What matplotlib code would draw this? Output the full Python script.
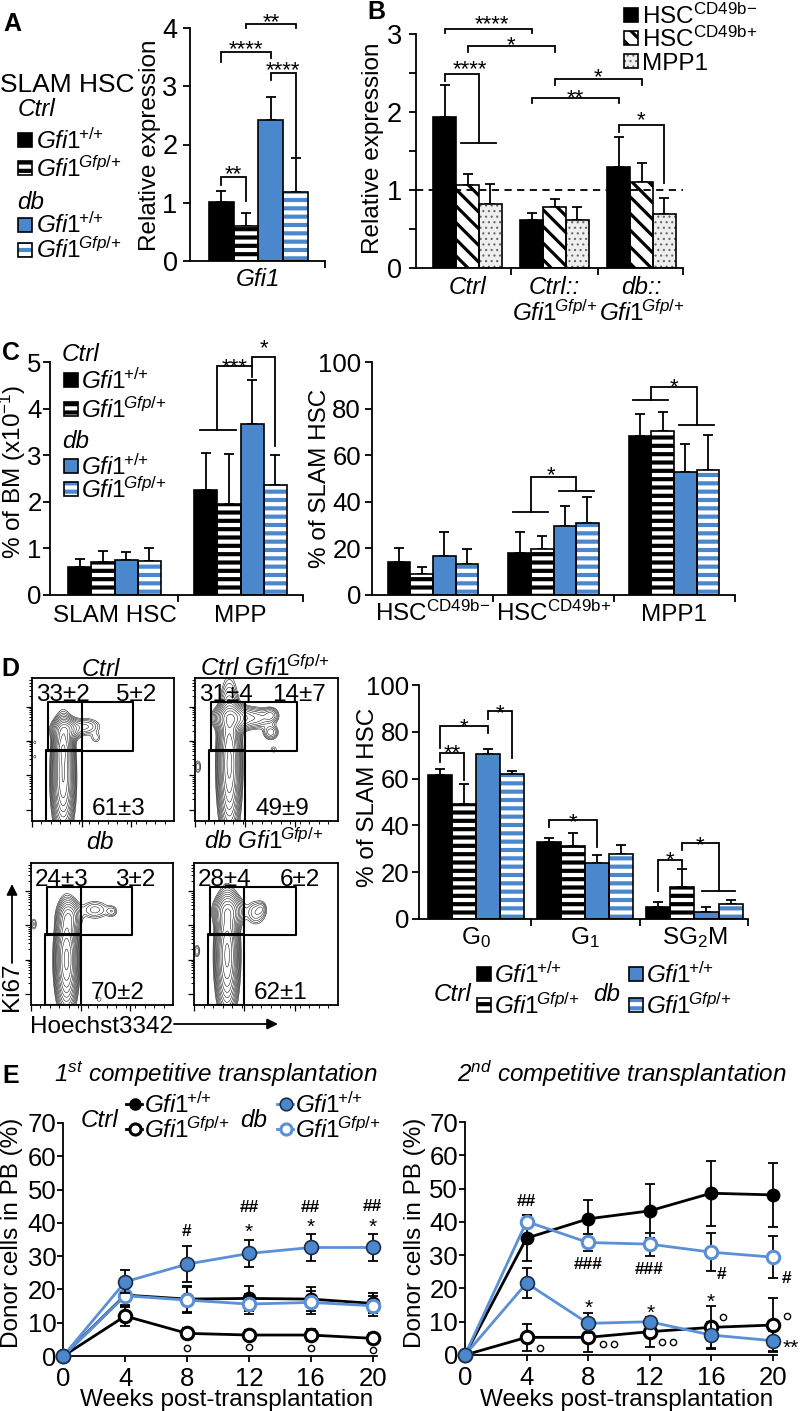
import numpy as np
import matplotlib
matplotlib.use("Agg")
import matplotlib as mpl
import matplotlib.pyplot as plt
from matplotlib.patches import Rectangle

# ------------------------------------------------------------------ data
A_CATEGORY = "Gfi1"
A_VALUES = [1.02, 0.60, 2.42, 1.18]
A_SD = [0.18, 0.23, 0.40, 0.59]

GENO_WT = r"$\mathit{Gfi1}^{\!{+}/{+}}$"
GENO_GFP = r"$\mathit{Gfi1}^{\!\mathit{Gfp}/{+}}$"

B_GROUPS = ["Ctrl", "Ctrl::", "db::"]
B_GROUPS_LINE2 = ["", GENO_GFP, GENO_GFP]
B_HSC_NEG = [1.93, 0.61, 1.29]
B_HSC_NEG_SD = [0.42, 0.10, 0.39]
B_HSC_POS = [1.06, 0.78, 1.10]
B_HSC_POS_SD = [0.15, 0.10, 0.25]
B_MPP1 = [0.82, 0.62, 0.69]
B_MPP1_SD = [0.26, 0.16, 0.21]
B_LEGEND = [r"HSC$^{\mathrm{CD49b{-}}}$", r"HSC$^{\mathrm{CD49b{+}}}$", "MPP1"]

C_BM_CATS = ["SLAM HSC", "MPP"]
C_BM_CTRL_WT = [0.61, 2.25]
C_BM_CTRL_WT_SD = [0.16, 0.81]
C_BM_CTRL_GFP = [0.70, 1.95]
C_BM_CTRL_GFP_SD = [0.25, 1.09]
C_BM_DB_WT = [0.75, 3.68]
C_BM_DB_WT_SD = [0.18, 0.93]
C_BM_DB_GFP = [0.74, 2.37]
C_BM_DB_GFP_SD = [0.28, 0.64]

C_HSC_CATS = [r"HSC$^{\mathrm{CD49b{-}}}$", r"HSC$^{\mathrm{CD49b{+}}}$", "MPP1"]
C_HSC_CTRL_WT = [14.0, 18.2, 68.3]
C_HSC_CTRL_WT_SD = [6.1, 9.0, 9.4]
C_HSC_CTRL_GFP = [9.0, 19.6, 70.6]
C_HSC_CTRL_GFP_SD = [3.2, 5.9, 7.9]
C_HSC_DB_WT = [16.9, 29.7, 53.0]
C_HSC_DB_WT_SD = [10.3, 8.7, 11.9]
C_HSC_DB_GFP = [13.2, 30.8, 53.7]
C_HSC_DB_GFP_SD = [6.6, 11.2, 15.1]

D_CATS = [r"G$_0$", r"G$_1$", r"SG$_2$M"]
D_CTRL_WT = [61.5, 32.8, 5.0]
D_CTRL_WT_SD = [2.6, 2.0, 2.1]
D_CTRL_GFP = [49.3, 31.3, 13.8]
D_CTRL_GFP_SD = [8.4, 5.6, 7.4]
D_DB_WT = [70.4, 24.1, 2.8]
D_DB_WT_SD = [2.1, 3.3, 2.2]
D_DB_GFP = [62.0, 27.8, 6.6]
D_DB_GFP_SD = [1.2, 3.7, 1.5]

D_FLOW_TITLES = [r"$\mathit{Ctrl}$", r"$\mathit{Ctrl\ Gfi1}^{\!\mathit{Gfp}/{+}}$",
                 r"$\mathit{db}$", r"$\mathit{db\ Gfi1}^{\!\mathit{Gfp}/{+}}$"]
D_FLOW_G1 = ["33±2", "31±4", "24±3", "28±4"]
D_FLOW_SG2M = ["5±2", "14±7", "3±2", "6±2"]
D_FLOW_G0 = ["61±3", "49±9", "70±2", "62±1"]
# density components of each flow plot: (x, y, sx, sy, weight)
D_FLOW_BLOBS = [
    [(0.22, 0.30, 0.035, 0.17, 1.0), (0.22, 0.52, 0.030, 0.08, 0.6), (0.24, 0.64, 0.05, 0.04, 0.30),
     (0.38, 0.66, 0.06, 0.035, 0.08), (0.45, 0.58, 0.025, 0.025, 0.035),
     (0.02, 0.55, 0.015, 0.02, 0.025), (0.02, 0.45, 0.015, 0.02, 0.025), (0.03, 0.28, 0.015, 0.02, 0.02)],
    [(0.24, 0.40, 0.035, 0.22, 1.0), (0.26, 0.72, 0.06, 0.045, 0.45), (0.42, 0.72, 0.07, 0.04, 0.12),
     (0.53, 0.74, 0.03, 0.03, 0.09), (0.53, 0.62, 0.03, 0.03, 0.09), (0.55, 0.50, 0.02, 0.02, 0.03),
     (0.02, 0.38, 0.015, 0.03, 0.05)],
    [(0.25, 0.32, 0.035, 0.16, 1.0), (0.27, 0.62, 0.04, 0.06, 0.25), (0.45, 0.67, 0.06, 0.04, 0.06),
     (0.57, 0.66, 0.025, 0.025, 0.045), (0.02, 0.57, 0.015, 0.03, 0.04), (0.48, 0.04, 0.02, 0.02, 0.025)],
    [(0.23, 0.35, 0.035, 0.18, 1.0), (0.24, 0.66, 0.05, 0.06, 0.30), (0.43, 0.65, 0.04, 0.05, 0.07),
     (0.47, 0.68, 0.02, 0.03, 0.04), (0.02, 0.38, 0.015, 0.03, 0.05)],
]

E_WEEKS = [0, 4, 8, 12, 16, 20]
E1_CTRL_WT = [0, 18.3, 17.1, 17.3, 17.1, 15.8]
E1_CTRL_WT_SD = [0, 3.0, 4.0, 3.8, 3.7, 3.0]
E1_CTRL_GFP = [0, 12.0, 6.8, 6.3, 6.3, 5.3]
E1_CTRL_GFP_SD = [0, 3.0, 1.5, 1.5, 1.7, 1.5]
E1_DB_WT = [0, 22.3, 27.6, 30.8, 32.6, 32.6]
E1_DB_WT_SD = [0, 3.5, 5.5, 4.2, 4.2, 4.2]
E1_DB_GFP = [0, 18.1, 16.8, 15.6, 16.1, 15.1]
E1_DB_GFP_SD = [0, 3.5, 4.0, 3.0, 3.5, 3.0]
E1_HASH = [("#", 8, 38.0), ("##", 12, 45.0), ("##", 16, 45.0), ("##", 20, 45.5)]
E1_STARS = [("*", 12, 39.0), ("*", 16, 40.5), ("*", 20, 40.5)]
E1_CIRC_X = [8, 12, 16, 20]
E1_CIRC_Y = [2.5, 2.8, 2.3, 1.8]

E2_CTRL_WT = [0, 35.1, 40.9, 43.3, 48.6, 48.1]
E2_CTRL_WT_SD = [0, 7.0, 5.8, 8.0, 9.7, 9.5]
E2_CTRL_GFP = [0, 5.3, 5.3, 7.0, 8.3, 9.0]
E2_CTRL_GFP_SD = [0, 4.0, 4.3, 4.5, 6.5, 8.0]
E2_DB_WT = [0, 21.6, 9.5, 10.0, 6.0, 4.3]
E2_DB_WT_SD = [0, 4.4, 3.0, 1.0, 4.0, 3.0]
E2_DB_GFP = [0, 40.1, 33.8, 33.3, 30.9, 29.4]
E2_DB_GFP_SD = [0, 2.0, 2.5, 3.5, 5.8, 6.3]
E2_HASH = [("##", 4, 46.6), ("###", 8, 27.6), ("###", 12, 26.3), ("#", 16.65, 24.6), ("#", 20.9, 23.6)]
E2_STARS = [("*", 8.05, 16.0), ("*", 12.1, 14.5), ("*", 16.0, 17.8), ("**", 21.2, 4.0)]
E2_CIRC_X = [4.9, 9.0, 9.7, 12.8, 13.5, 16.8, 20.9]
E2_CIRC_Y = [2.2, 3.2, 3.2, 4.0, 4.0, 11.3, 11.7]

# ------------------------------------------------------------------ style
W, H, DPI = 800, 1411, 100
PX = DPI / 72.0
FS = 17.5
BLUE = "#4b87cc"
BLUE_L = "#5b90d6"
LW = 1.3

plt.rcParams.update({
    "font.family": ["Liberation Sans", "DejaVu Sans"],
    "mathtext.fontset": "custom",
    "mathtext.rm": "Liberation Sans",
    "mathtext.it": "Liberation Sans:italic",
    "mathtext.bf": "Liberation Sans:bold",
    "mathtext.sf": "Liberation Sans",
    "hatch.linewidth": 2.6,
    "axes.linewidth": LW,
})

STYLES = {
    "wt": dict(face="black", hatch=None),
    "gfp": dict(face="white", hatch="--", hc="black", hlw=3.0),
    "dbwt": dict(face=BLUE, hatch=None),
    "dbgfp": dict(face=BLUE, hatch="--", hc="white", hlw=3.0),
    "diag": dict(face="white", hatch="\\\\", hc="black", hlw=2.3),
    "dots": dict(face="#eeeeee", hatch="...", hc="#666666", hlw=0.8),
}

fig = plt.figure(figsize=(W / DPI, H / DPI), dpi=DPI)
ov = fig.add_axes([0, 0, 1, 1], zorder=10)
ov.set_xlim(0, W)
ov.set_ylim(H, 0)
ov.axis("off")


def add_ax(l, t, r, b):
    return fig.add_axes([l / W, 1 - b / H, (r - l) / W, (b - t) / H])


def T(x, y, s, fs=FS, ha="center", **kw):
    ov.text(x, y + 0.36 * fs * PX, s, fontsize=fs, ha=ha, va="baseline", **kw)


def TR(x, y, s, fs=FS):
    ov.text(x, y, s, fontsize=fs, rotation=90, ha="center", va="center")


def hatched(maker, st):
    with mpl.rc_context({"hatch.linewidth": st.get("hlw", 1.0)}):
        arts = maker()
    for p in arts:
        if hasattr(p, "set_hatch_linewidth"):
            p.set_hatch_linewidth(st.get("hlw", 1.0))
    return arts


def styled_bar(ax, xs, vals, w, name):
    st = STYLES[name]
    if st["hatch"]:
        hatched(lambda: list(ax.bar(xs, vals, w, color=st["face"], edgecolor=st["hc"],
                                    hatch=st["hatch"], linewidth=0, zorder=2)), st)
    else:
        ax.bar(xs, vals, w, color=st["face"], linewidth=0, zorder=2)
    ax.bar(xs, vals, w, fill=False, edgecolor="black", linewidth=1.2, zorder=2.1)


def legend_square(x, y, name, s=14):
    st = STYLES[name]
    if st["hatch"]:
        def mk():
            r = Rectangle((x - s / 2, y - s / 2), s, s, facecolor=st["face"], edgecolor=st["hc"],
                          hatch=st["hatch"], linewidth=0)
            ov.add_patch(r)
            return [r]
        hatched(mk, st)
    else:
        ov.add_patch(Rectangle((x - s / 2, y - s / 2), s, s, facecolor=st["face"], linewidth=0))
    ov.add_patch(Rectangle((x - s / 2, y - s / 2), s, s, fill=False, edgecolor="black", linewidth=1.2))


def bar_x(g, i, n, w):
    return g + (i - (n - 1) / 2.0) * w


def group_bars(ax, series, sds, names, w):
    n = len(series)
    for i, (vals, sd, nm) in enumerate(zip(series, sds, names)):
        xs = [bar_x(g, i, n, w) for g in range(len(vals))]
        styled_bar(ax, xs, vals, w, nm)
        ax.errorbar(xs, vals, yerr=[np.zeros(len(vals)), sd], fmt="none", ecolor="black",
                    elinewidth=LW, capsize=3.5, capthick=LW, zorder=1)


def bar_axes(ax, ylim, yticks, ylabels, xticks, ysize=19, ypad=3, minor=None):
    ax.set_ylim(*ylim)
    for s in ("top", "right"):
        ax.spines[s].set_visible(False)
    ax.set_yticks(yticks)
    ax.set_yticklabels(ylabels)
    if minor is not None:
        ax.set_yticks(minor, minor=True)
    ax.tick_params(axis="y", which="both", direction="out", length=5, width=LW, labelsize=ysize, pad=ypad)
    ax.set_xticks(xticks)
    ax.set_xticklabels([])
    ax.tick_params(axis="x", direction="out", length=5, width=LW)


def br(ax, xs, ys):
    ax.plot(xs, ys, color="black", lw=LW, clip_on=False, solid_joinstyle="miter", zorder=3)


def sig(ax, x, y, s, fs=16, frac=0.575, **kw):
    ax.annotate(s, (x, y), xytext=(0, -frac * fs * PX), textcoords="offset pixels", ha="center",
                va="baseline", fontsize=fs, annotation_clip=False, **kw)


def cat_label(ax, g, s, dy, fs=FS, **kw):
    ax.annotate(s, (g, 0), xycoords=("data", "axes fraction"), xytext=(0, -dy - 0.36 * fs * PX),
                textcoords="offset pixels", ha="center", va="baseline", fontsize=fs,
                annotation_clip=False, **kw)


# ------------------------------------------------------------------ panel A
axA = add_ax(190, 28, 325, 261)
wA = 0.25
xsA = [bar_x(0, i, 4, wA) for i in range(4)]
for i, nm in enumerate(["wt", "gfp", "dbwt", "dbgfp"]):
    styled_bar(axA, [xsA[i]], [A_VALUES[i]], wA, nm)
axA.errorbar(xsA, A_VALUES, yerr=[np.zeros(4), A_SD], fmt="none", ecolor="black", elinewidth=LW,
             capsize=3.5, capthick=LW, zorder=1)
axA.set_xlim(-0.692, 0.672)
bar_axes(axA, (0, 4), [0, 1, 2, 3, 4], ["0", "1", "2", "3", "4"], [0.672], ysize=19.5, ypad=4)
cat_label(axA, 0, A_CATEGORY, 16, style="italic")
br(axA, [xsA[0], xsA[0], xsA[1], xsA[1]], [1.30, 1.44, 1.44, 1.03])
sig(axA, (xsA[0] + xsA[1]) / 2, 1.61, "**")
br(axA, [xsA[0], xsA[0], xsA[2], xsA[2]], [3.42, 3.59, 3.59, 3.48])
sig(axA, (xsA[0] + xsA[2]) / 2, 3.76, "****")
br(axA, [xsA[2], xsA[2], xsA[3], xsA[3]], [3.11, 3.23, 3.23, 1.79])
sig(axA, (xsA[2] + xsA[3]) / 2, 3.40, "****")
br(axA, [xsA[1], xsA[1], xsA[3], xsA[3]], [4.00, 4.07, 4.07, 4.00])
sig(axA, (xsA[1] + xsA[3]) / 2, 4.22, "**")
TR(150, 145, "Relative expression")
T(3, 22, "A", fs=18, ha="left", fontweight="bold")
T(0, 82, "SLAM HSC", fs=19, ha="left")
T(18, 107, "Ctrl", ha="left", style="italic")
T(17, 200, "db", ha="left", style="italic")
for (yy, nm, lab) in [(140, "wt", GENO_WT), (168, "gfp", GENO_GFP), (224.5, "dbwt", GENO_WT),
                      (249.5, "dbgfp", GENO_GFP)]:
    legend_square(25, yy, nm)
    T(36, yy, lab, ha="left")

# ------------------------------------------------------------------ panel B
axB = add_ax(416, 34, 683, 268)
wB = 0.264
group_bars(axB, [B_HSC_NEG, B_HSC_POS, B_MPP1], [B_HSC_NEG_SD, B_HSC_POS_SD, B_MPP1_SD],
           ["wt", "diag", "dots"], wB)
axB.set_xlim(-0.592, 2.477)
bar_axes(axB, (0, 3), [0, 1, 2, 3], ["0", "1", "2", "3"], [0.5, 1.5, 2.477], ysize=19.5, ypad=5,
         minor=[0.5, 1.5, 2.5])
axB.axhline(1, color="black", lw=LW, ls=(0, (4, 3)), zorder=3)
for g, (l1, l2) in enumerate(zip(B_GROUPS, B_GROUPS_LINE2)):
    cat_label(axB, g, l1, 17, style="italic")
    if l2:
        cat_label(axB, g, l2, 44)
bB = lambda g, i: bar_x(g, i, 3, wB)
br(axB, [bB(0, 0), bB(0, 0), bB(1, 0), bB(1, 0)], [3.01, 3.06, 3.06, 3.01])
sig(axB, (bB(0, 0) + bB(1, 0)) / 2 + 0.05, 3.21, "****")
br(axB, [bB(0, 1), bB(0, 1), bB(1, 1), bB(1, 1)], [2.77, 2.84, 2.84, 2.77])
sig(axB, (bB(0, 1) + bB(1, 1)) / 2, 2.94, "*")
xr = (bB(0, 1) + bB(0, 2)) / 2
br(axB, [bB(0, 0), bB(0, 0), xr, xr], [2.40, 2.49, 2.49, 1.60])
br(axB, [xr - 0.21, xr + 0.20], [1.60, 1.60])
sig(axB, 0.03, 2.64, "****")
br(axB, [bB(1, 1), bB(1, 1), bB(2, 1), bB(2, 1)], [2.35, 2.42, 2.42, 2.35])
sig(axB, (bB(1, 1) + bB(2, 1)) / 2, 2.53, "*")
br(axB, [bB(1, 0), bB(1, 0), bB(2, 0), bB(2, 0)], [2.12, 2.18, 2.18, 2.12])
sig(axB, (bB(1, 0) + bB(2, 0)) / 2, 2.27, "**")
br(axB, [bB(2, 0), bB(2, 0), bB(2, 2), bB(2, 2)], [1.75, 1.83, 1.83, 1.09])
sig(axB, (bB(2, 0) + bB(2, 2)) / 2, 1.98, "*")
TR(373, 148, "Relative expression")
T(367, 10, "B", fs=18, ha="left", fontweight="bold")
for yy, nm, lab in zip([15, 38, 61], ["wt", "diag", "dots"], B_LEGEND):
    legend_square(630.5, yy, nm)
    T(642, yy, lab, ha="left")

# ------------------------------------------------------------------ panel C left
axC1 = add_ax(50, 362.3, 303, 595)
wC = 0.184
group_bars(axC1, [C_BM_CTRL_WT, C_BM_CTRL_GFP, C_BM_DB_WT, C_BM_DB_GFP],
           [C_BM_CTRL_WT_SD, C_BM_CTRL_GFP_SD, C_BM_DB_WT_SD, C_BM_DB_GFP_SD],
           ["wt", "gfp", "dbwt", "dbgfp"], wC)
axC1.set_xlim(-0.512, 1.496)
bar_axes(axC1, (0, 5), [0, 1, 2, 3, 4, 5], ["0", "1", "2", "3", "4", "5"], [0.5, 1.496], ysize=18.5, ypad=1)
for g, lab in enumerate(C_BM_CATS):
    cat_label(axC1, g, lab, 18)
bC = lambda g, i: bar_x(g, i, 4, wC)
xl = (bC(1, 0) + bC(1, 1)) / 2
br(axC1, [xl, xl, bC(1, 2), bC(1, 2)], [3.54, 4.91, 4.91, 4.68])
br(axC1, [xl - 0.14, xl + 0.15], [3.54, 3.54])
sig(axC1, (xl + bC(1, 2)) / 2, 5.05, "***")
br(axC1, [bC(1, 2), bC(1, 2), bC(1, 3), bC(1, 3)], [4.91, 5.12, 5.12, 3.21])
sig(axC1, (bC(1, 2) + bC(1, 3)) / 2, 5.44, "*")
TR(13, 472, r"% of BM (x10$^{-1}$)")
T(2, 351, "C", fs=18, ha="left", fontweight="bold")
T(62, 352, "Ctrl", ha="left", style="italic")
T(62, 439, "db", ha="left", style="italic")
for (yy, nm, lab) in [(380, "wt", GENO_WT), (409, "gfp", GENO_GFP), (466, "dbwt", GENO_WT),
                      (489, "dbgfp", GENO_GFP)]:
    legend_square(70.5, yy, nm)
    T(81, yy, lab, ha="left")

# ------------------------------------------------------------------ panel C right
axC2 = add_ax(372, 362, 735, 595)
wR = 0.187
group_bars(axC2, [C_HSC_CTRL_WT, C_HSC_CTRL_GFP, C_HSC_DB_WT, C_HSC_DB_GFP],
           [C_HSC_CTRL_WT_SD, C_HSC_CTRL_GFP_SD, C_HSC_DB_WT_SD, C_HSC_DB_GFP_SD],
           ["wt", "gfp", "dbwt", "dbgfp"], wR)
axC2.set_xlim(-0.506, 2.506)
bar_axes(axC2, (0, 100), [0, 20, 40, 60, 80, 100], ["0", "20", "40", "60", "80", "100"],
         [0.5, 1.5, 2.506], ysize=18.5, ypad=3)
for g, lab in enumerate(C_HSC_CATS):
    cat_label(axC2, g, lab, 17)
bR = lambda g, i: bar_x(g, i, 4, wR)
for g, ylow, ytop, yr, tx, ty in [(1, 35.8, 50.6, 44.8, 0.98, 54.5), (2, 83.8, 89.1, 73.1, 2.0, 92.3)]:
    cl = (bR(g, 0) + bR(g, 1)) / 2
    cr = (bR(g, 2) + bR(g, 3)) / 2
    br(axC2, [cl - 0.15, cl + 0.14], [ylow, ylow])
    br(axC2, [cl, cl, cr, cr], [ylow, ytop, ytop, yr])
    br(axC2, [cr - 0.145, cr + 0.145], [yr, yr])
    sig(axC2, tx, ty, "*")
TR(320, 478, "% of SLAM HSC")

# ------------------------------------------------------------------ panel D flow plots
boxes = [(32, 678, 174, 821), (195, 678, 338, 821), (31, 863, 173, 1005), (194, 863, 338, 1005)]
gx = np.linspace(0, 1, 260)
GX, GY = np.meshgrid(gx, gx)
yt_major = [0.08, 0.32, 0.56, 0.80]
yt_minor = [m + np.log10(k) * 0.24 for m in yt_major for k in range(2, 10) if m + np.log10(k) * 0.24 < 1]
for k, (l, t, r, b) in enumerate(boxes):
    ax = add_ax(l, t, r, b)
    Z = np.zeros_like(GX)
    for (cx, cy, sx, sy, wgt) in D_FLOW_BLOBS[k]:
        Z += wgt * np.exp(-0.5 * (((GX - cx) / sx) ** 2 + ((GY - cy) / sy) ** 2))
    levels = Z.max() * np.geomspace(0.02, 0.9, 13)
    ax.contour(GX, GY, Z, levels=levels, colors="black", linewidths=0.35)
    ax.set_xlim(0, 1)
    ax.set_ylim(0, 1)
    ax.plot([0.11, 0.71, 0.71, 0.11, 0.11], [0.49, 0.49, 0.83, 0.83, 0.49], color="black", lw=1.5)
    ax.plot([0.35, 0.35], [0.49, 0.83], color="black", lw=1.5)
    ax.plot([0.10, 0.35, 0.35, 0.10, 0.10], [0.0, 0.0, 0.50, 0.50, 0.0], color="black", lw=1.5)
    ax.set_yticks(yt_major)
    ax.set_yticks(yt_minor, minor=True)
    ax.set_xticks([0.0, 0.35, 0.70])
    ax.set_xticks(np.arange(0, 1.0, 1 / 15.0), minor=True)
    ax.tick_params(which="major", direction="out", length=4, width=0.9, labelleft=False, labelbottom=False)
    ax.tick_params(which="minor", direction="out", length=2.5, width=0.7)
    for s in ax.spines.values():
        s.set_linewidth(LW)
    cxm = (l + r) / 2
    T(cxm - 2, t - 11 if k < 2 else t - 23, D_FLOW_TITLES[k])
    T(l + 31, t + 14, D_FLOW_G1[k])
    T(l + 104 if k != 3 else l + 106, t + 14, D_FLOW_SG2M[k])
    T(l + 87, b - 15, D_FLOW_G0[k])
T(1, 667, "D", fs=18, ha="left", fontweight="bold")
TR(12, 987, "Ki67")
ov.annotate("", xy=(12, 884), xytext=(12, 963),
            arrowprops=dict(arrowstyle="-|>", color="black", lw=LW, mutation_scale=16, shrinkA=0, shrinkB=0))
T(30, 1024, "Hoechst3342", ha="left")
ov.annotate("", xy=(278, 1024), xytext=(174, 1024),
            arrowprops=dict(arrowstyle="-|>", color="black", lw=LW, mutation_scale=16, shrinkA=0, shrinkB=0))

# ------------------------------------------------------------------ panel D right bars
axD = add_ax(419, 685, 748, 919)
wD = 0.22
group_bars(axD, [D_CTRL_WT, D_CTRL_GFP, D_DB_WT, D_DB_GFP],
           [D_CTRL_WT_SD, D_CTRL_GFP_SD, D_DB_WT_SD, D_DB_GFP_SD],
           ["wt", "gfp", "dbwt", "dbgfp"], wD)
axD.set_xlim(-0.522, 2.49)
bar_axes(axD, (0, 100), [0, 20, 40, 60, 80, 100], ["0", "20", "40", "60", "80", "100"],
         [0.5, 1.5, 2.49], ysize=18.5, ypad=2)
for g, lab in enumerate(D_CATS):
    cat_label(axD, g, lab, 16)
bD = lambda g, i: bar_x(g, i, 4, wD)
br(axD, [bD(0, 0), bD(0, 0), bD(0, 1), bD(0, 1)], [67.2, 70.8, 70.8, 59.4])
sig(axD, (bD(0, 0) + bD(0, 1)) / 2, 73.6, "**")
br(axD, [bD(0, 0), bD(0, 0), bD(0, 2), bD(0, 2)], [73.2, 82.6, 82.6, 79.3])
sig(axD, (bD(0, 0) + bD(0, 2)) / 2, 85.0, "*")
br(axD, [bD(0, 2), bD(0, 2), bD(0, 3), bD(0, 3)], [85.5, 88.9, 88.9, 68.7])
sig(axD, (bD(0, 2) + bD(0, 3)) / 2, 91.0, "*")
br(axD, [bD(1, 0), bD(1, 0), bD(1, 2), bD(1, 2)], [39.5, 42.3, 42.3, 30.6])
sig(axD, (bD(1, 0) + bD(1, 2)) / 2, 44.4, "*")
br(axD, [bD(2, 0), bD(2, 0), bD(2, 1), bD(2, 1)], [12.1, 25.2, 25.2, 22.4])
sig(axD, (bD(2, 0) + bD(2, 1)) / 2, 28.2, "*")
crD = (bD(2, 2) + bD(2, 3)) / 2
br(axD, [bD(2, 1), bD(2, 1), crD, crD], [29.5, 32.6, 32.6, 12.1])
br(axD, [crD - 0.147, crD + 0.147], [12.1, 12.1])
sig(axD, (bD(2, 1) + crD) / 2, 34.6, "*")
TR(368, 797, "% of SLAM HSC")
T(453, 992, "Ctrl", style="italic")
T(607, 992, "db", style="italic")
for (xx, yy, nm, lab) in [(483.5, 974, "wt", GENO_WT), (483.5, 1005, "gfp", GENO_GFP),
                          (635.5, 974, "dbwt", GENO_WT), (635.5, 1005, "dbgfp", GENO_GFP)]:
    legend_square(xx, yy, nm)
    T(xx + 11, yy, lab, ha="left")

# ------------------------------------------------------------------ panel E
SER = [  # (line color, marker face, marker edge, mew, ms)
    ("black", "black", "black", 1.0, 9),
    ("black", "white", "black", 2.2, 9),
    (BLUE_L, "white", BLUE_L, 2.2, 9),
    (BLUE_L, BLUE, "#1d2d45", 1.2, 10),
]


def e_axes(ax, series, sds, hashes, stars, cx, cy):
    for (y, sd, (lc, mfc, mec, mew, ms)), z in zip(zip(series, sds, SER), [3, 4, 5, 6]):
        ax.errorbar(E_WEEKS, y, yerr=sd, fmt="none", ecolor="black", elinewidth=LW, capsize=3.5,
                    capthick=LW, zorder=z, clip_on=False)
        ax.plot(E_WEEKS, y, "-o", color=lc, mfc=mfc, mec=mec, mew=mew, ms=ms, lw=2.0, zorder=z + 0.5,
                clip_on=False)
    ax.set_xlim(0, 20.28)
    ax.set_ylim(0, 70)
    for s in ("top", "right"):
        ax.spines[s].set_visible(False)
    ax.set_xticks(E_WEEKS)
    ax.set_yticks(range(0, 71, 10))
    ax.tick_params(axis="both", direction="out", length=4, width=LW, labelsize=18.5)
    ax.tick_params(axis="y", pad=1)
    ax.tick_params(axis="x", pad=4)
    for s, x, y in hashes:
        sig(ax, x, y, s, fs=12.5, frac=0.36, fontweight="bold")
    for s, x, y in stars:
        sig(ax, x, y, s, fs=15)
    ax.plot(cx, cy, "o", ls="none", ms=4.5, mfc="white", mec="black", mew=1.0, clip_on=False, zorder=8)


axE1 = add_ax(63.3, 1123, 377, 1356)
e_axes(axE1, [E1_CTRL_WT, E1_CTRL_GFP, E1_DB_GFP, E1_DB_WT],
       [E1_CTRL_WT_SD, E1_CTRL_GFP_SD, E1_DB_GFP_SD, E1_DB_WT_SD], E1_HASH, E1_STARS, E1_CIRC_X, E1_CIRC_Y)
axE2 = add_ax(465, 1122, 777, 1355)
e_axes(axE2, [E2_CTRL_WT, E2_CTRL_GFP, E2_DB_GFP, E2_DB_WT],
       [E2_CTRL_WT_SD, E2_CTRL_GFP_SD, E2_DB_GFP_SD, E2_DB_WT_SD], E2_HASH, E2_STARS, E2_CIRC_X, E2_CIRC_Y)

T(2, 1074, "E", fs=18, ha="left", fontweight="bold")
T(216, 1073, r"1$^{st}$ competitive transplantation", style="italic")
T(622, 1073, r"2$^{nd}$ competitive transplantation", style="italic")
TR(12, 1233, "Donor cells in PB (%)")
TR(415, 1233, "Donor cells in PB (%)")
T(227, 1397, "Weeks post-transplantation")
T(627, 1397, "Weeks post-transplantation")
T(100, 1118, "Ctrl", style="italic")
T(254, 1118, "db", style="italic")
for (x0, y0, idx, lab) in [(126, 1104, 0, GENO_WT), (126, 1129, 1, GENO_GFP),
                           (277, 1104, 3, GENO_WT), (277, 1129, 2, GENO_GFP)]:
    lc, mfc, mec, mew, ms = SER[idx]
    ov.plot([x0, x0 + 16], [y0, y0], color=lc, lw=2.0)
    ov.plot([x0 + 9], [y0], "o", mfc=mfc, mec=mec, mew=mew, ms=ms - 1)
    T(x0 + 18, y0, lab, ha="left")

fig.savefig("out.png", dpi=DPI)
